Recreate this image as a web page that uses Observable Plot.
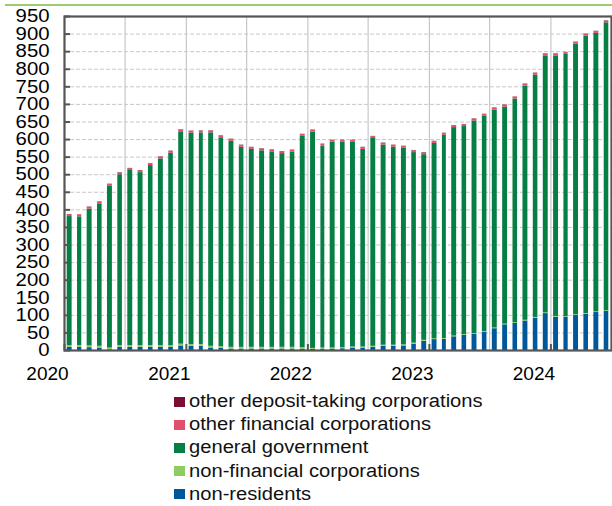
<!DOCTYPE html>
<html>
<head>
<meta charset="utf-8">
<script src="https://cdn.jsdelivr.net/npm/d3@7"></script>
<script src="https://cdn.jsdelivr.net/npm/@observablehq/plot@0.6"></script>
<style>
  html, body { margin: 0; padding: 0; background: #fff; }
  body { width: 612px; height: 506px; position: relative; overflow: hidden; font-family: Arial, "Liberation Sans", sans-serif; }
  #topline { position: absolute; left: 5px; right: 0; top: 4px; height: 2px; background: #9ccc6c; }
  #legend { margin-left: 174px; padding-top: 5px; font-size: 18px; line-height: 23.2px; color: #111; }
  #legend .row { display: flex; align-items: center; white-space: nowrap; }
  #legend .sw { width: 11px; height: 10px; margin-right: 4px; flex: none; }
  #legend .lbl { display: inline-block; transform: scaleX(1.12); transform-origin: left center; }
</style>
</head>
<body>
<div id="topline"></div>
<div id="chart"></div>
<div id="legend"></div>
<script>
// Series (stack order bottom -> top)
const seriesNames = ["non-residents", "non-financial corporations", "general government", "other financial corporations", "other deposit-taking corporations"];
const seriesColors = ["#00589b", "#8fcb63", "#067f45", "#e0506c", "#7b0d34"];

// Monthly categories: Jan 2020 .. Jun 2024 (54 months)
const startMonth = "2020-01-01";
const endMonth = "2024-07-01";

// Values (billions)
const nonResidents = [9,9,8,7,2,9,9,9,9,9,9,13, 12,12,7,6,4,4,4,4,4,4,4,3, 3,4,4,5,7,7,9,12,12,13,18,26, 31,32,39,43,46,52,62,73,77,84,92,105, 95,94,100,103,108,111];
const nonFinancial = [5,5,5,5,5,5,5,5,5,5,5,5, 5,5,5,5,5,5,5,5,5,5,5,5, 3,3,3,3,3,3,3,3,3,3,3,3, 2,2,2,2,2,2,2,2,2,2,2,2, 2,2,2,2,2,2];
const generalGov = [367,366,389,405,460,486,498,492,512,531,547,604, 601,602,607,594,586,569,563,559,556,551,555,601, 615,574,585,584,582,562,591,569,563,559,542,528, 556,578,593,592,605,612,620,617,636,666,689,731, 741,746,769,789,792,819];
const otherFinancial = [5,5,5,5,5,5,5,5,5,5,5,5, 5,5,5,5,5,5,5,5,5,5,5,5, 5,5,5,5,5,5,5,5,5,5,5,5, 5,5,5,5,5,5,5,5,5,5,5,5, 5,5,5,5,5,5];
const otherDeposit = [1,1,1,1,1,1,1,1,1,1,1,1, 1,1,1,1,1,1,1,1,1,1,1,1, 1,1,1,1,1,1,1,1,1,1,1,1, 1,1,1,1,1,1,1,1,1,1,1,1, 1,1,1,1,1,1];

const yTicks = d3.range(0, 951, 50);
const yearTicks = ["2020-01-01","2021-01-01","2022-01-01","2023-01-01","2024-01-01"].map(d => new Date(d));
const gridDates = ["2020-07-01","2021-01-01","2021-07-01","2022-01-01","2022-07-01","2023-01-01","2023-07-01","2024-01-01"].map(d => new Date(d));

const months = d3.utcMonth.range(new Date(startMonth), new Date(endMonth));
const seriesValues = [nonResidents, nonFinancial, generalGov, otherFinancial, otherDeposit];
const data = [];
months.forEach((m, i) => {
  seriesNames.forEach((s, k) => data.push({date: m, series: s, value: seriesValues[k][i]}));
});

const font = 'Arial, "Liberation Sans", sans-serif';
const plot = Plot.plot({
  width: 612,
  height: 385,
  marginLeft: 64,
  marginRight: 1,
  marginTop: 16,
  marginBottom: 35,
  style: {fontFamily: font, fontSize: "18px", color: "#000", background: "#fff"},
  x: {type: "utc", domain: [new Date(startMonth), new Date(endMonth)], label: null},
  y: {domain: [0, 950], label: null},
  color: {domain: seriesNames, range: seriesColors},
  marks: [
    Plot.gridY(yTicks, {stroke: "#c8c8c8", strokeOpacity: 1, strokeDasharray: "4,2", strokeWidth: 1}),
    Plot.ruleX(gridDates, {stroke: "#c4c8cc", strokeWidth: 1.2}),
    Plot.rectY(data, Plot.stackY({
      x: "date", interval: "month", y: "value", fill: "series",
      order: seriesNames, insetLeft: 2.7, insetRight: 2.7
    })),
    Plot.axisY(yTicks, {tickSize: -6, text: null, label: null, stroke: "#555", strokeWidth: 2}),
    Plot.axisY(yTicks, {tickSize: 0, tickPadding: 15, label: null, fontSize: 18}),
    Plot.axisX(yearTicks, {tickSize: -6, text: null, label: null, stroke: "#555", strokeWidth: 2}),
    Plot.axisX(yearTicks, {tickSize: 0, tickPadding: 16, dx: -17, label: null, fontSize: 19, tickFormat: d3.utcFormat("%Y")}),
    Plot.frame({stroke: "#555", strokeWidth: 2.2})
  ]
});
document.getElementById("chart").appendChild(plot);

// Slightly wider tick labels, as in the reference
plot.querySelectorAll('g[aria-label="y-axis tick label"] text').forEach(t => {
  const tr = t.getAttribute("transform") || "";
  t.setAttribute("transform", tr + " scale(1.13,1)");
});

// Legend (top -> bottom, reverse of stack)
const legend = document.getElementById("legend");
seriesNames.slice().reverse().forEach((s) => {
  const k = seriesNames.indexOf(s);
  const row = document.createElement("div");
  row.className = "row";
  const sw = document.createElement("span");
  sw.className = "sw";
  sw.style.background = seriesColors[k];
  const t = document.createElement("span");
  t.className = "lbl";
  t.textContent = s;
  row.appendChild(sw);
  row.appendChild(t);
  legend.appendChild(row);
});
</script>
</body>
</html>
